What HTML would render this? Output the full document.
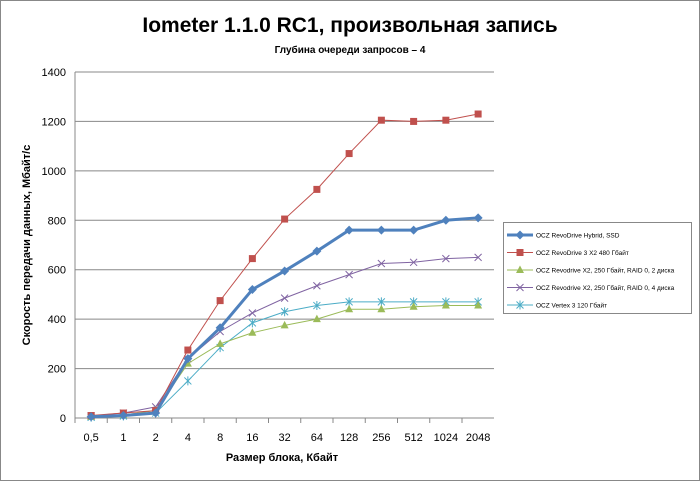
<!DOCTYPE html>
<html><head><meta charset="utf-8"><style>
body{margin:0;background:#fff}
svg{display:block;font-family:"Liberation Sans",sans-serif}
</style></head><body>
<svg id="s" width="700" height="481" xmlns="http://www.w3.org/2000/svg">
<rect x="0.5" y="0.5" width="699" height="480" fill="#fff" stroke="#888"/>
<text x="350" y="32" text-anchor="middle" font-size="21" font-weight="bold">Iometer 1.1.0 RC1, произвольная запись</text>
<text x="350" y="53" text-anchor="middle" font-size="10" font-weight="bold">Глубина очереди запросов – 4</text>
<text x="282" y="461" text-anchor="middle" font-size="11" font-weight="bold">Размер блока, Кбайт</text>
<text transform="translate(30,245) rotate(-90)" text-anchor="middle" font-size="11" font-weight="bold">Скорость передачи данных, Мбайт/с</text>
<g id="g"></g>
<rect x="503.5" y="222.5" width="188" height="91" fill="#fff" stroke="#888"/>
<g id="l" font-size="6.5"></g>
</svg>
<script>
var g=document.getElementById('g'),L=document.getElementById('l'),h='';
var x0=75,w=32.25,yb=418,k=346/1400;
function X(i){return x0+w/2+i*w}function Y(v){return yb-v*k}
for(var v=0;v<=1400;v+=200){var y=Y(v);h+='<line x1="'+x0+'" x2="494" y1="'+y+'" y2="'+y+'" stroke="#888"/>';h+='<text x="66" y="'+(y+4)+'" text-anchor="end" font-size="11">'+v+'</text>';}
h+='<line x1="'+x0+'" x2="'+x0+'" y1="72" y2="418" stroke="#888"/>';
var labs=['0,5','1','2','4','8','16','32','64','128','256','512','1024','2048'];
for(var i=0;i<13;i++){h+='<line x1="'+(x0+i*w)+'" x2="'+(x0+i*w)+'" y1="418" y2="423" stroke="#888"/>';h+='<text x="'+X(i)+'" y="441" text-anchor="middle" font-size="11">'+labs[i]+'</text>';}
var S=[
['OCZ Vertex 3 120 Гбайт','#4bacc6',1,'star',[3,8,20,150,285,385,430,455,470,470,470,470,470]],
['OCZ Revodrive X2, 250 Гбайт, RAID 0, 4 диска','#8064a2',1,'x',[8,20,45,240,350,425,485,535,580,625,630,645,650]],
['OCZ Revodrive X2, 250 Гбайт, RAID 0, 2 диска','#9bbb59',1,'tri',[5,12,30,220,300,345,375,400,440,440,450,455,455]],
['OCZ RevoDrive 3 X2 480 Гбайт','#c0504d',1,'sq',[10,20,30,275,475,645,805,925,1070,1205,1200,1205,1230]],
['OCZ RevoDrive Hybrid, SSD','#4f81bd',3,'dia',[5,10,20,240,365,520,595,675,760,760,760,800,810]]];
function M(t,x,y,c){
 if(t=='sq')return '<rect x="'+(x-3.5)+'" y="'+(y-3.5)+'" width="7" height="7" fill="'+c+'"/>';
 if(t=='dia')return '<path d="M'+x+' '+(y-4.5)+'L'+(x+4.5)+' '+y+'L'+x+' '+(y+4.5)+'L'+(x-4.5)+' '+y+'Z" fill="'+c+'"/>';
 if(t=='tri')return '<path d="M'+x+' '+(y-4.5)+'L'+(x+4)+' '+(y+3)+'L'+(x-4)+' '+(y+3)+'Z" fill="'+c+'"/>';
 var s='<path d="M'+(x-3.5)+' '+(y-3.5)+'L'+(x+3.5)+' '+(y+3.5)+'M'+(x+3.5)+' '+(y-3.5)+'L'+(x-3.5)+' '+(y+3.5);
 if(t=='star')s+='M'+x+' '+(y-4.5)+'L'+x+' '+(y+4.5);
 return s+'" stroke="'+c+'" fill="none"/>';}
S.forEach(function(s){var p=s[4].map(function(v,i){return X(i)+','+Y(v)}).join(' ');
 h+='<polyline points="'+p+'" fill="none" stroke="'+s[1]+'" stroke-width="'+s[2]+'"/>';
 s[4].forEach(function(v,i){h+=M(s[3],X(i),Y(v),s[1])});});
g.innerHTML=h;
var lh='';S.slice().reverse().forEach(function(s,j){var y=235+j*17.5;
 lh+='<line x1="507" x2="533" y1="'+y+'" y2="'+y+'" stroke="'+s[1]+'" stroke-width="'+s[2]+'"/>'+M(s[3],520,y,s[1]);
 lh+='<text x="536" y="'+(y+2.5)+'">'+s[0]+'</text>';});
L.innerHTML=lh;
</script>
</body></html>
